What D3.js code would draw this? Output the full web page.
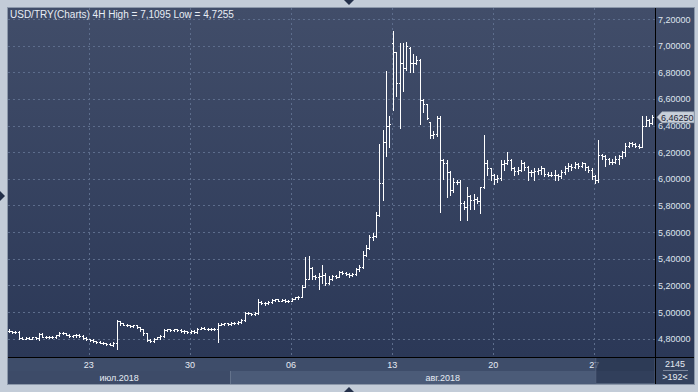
<!DOCTYPE html>
<html><head><meta charset="utf-8">
<script src="https://cdn.jsdelivr.net/npm/d3@7"></script>
<style>
html,body{margin:0;padding:0;background:#c3ccd8;overflow:hidden}
svg{display:block}
text{font-family:"Liberation Sans",Arial,sans-serif}
</style></head><body>
<svg id="c" width="698" height="392"></svg>
<script>
const opens=[
4.86,4.855,4.85,4.85,4.805,4.80,4.805,4.80,4.81,4.805,
4.835,4.815,4.81,4.815,4.81,4.825,4.845,4.84,4.83,4.82,
4.825,4.83,4.82,4.805,4.795,4.79,4.78,4.775,4.77,4.765,
4.76,4.755,4.77,4.93,4.915,4.905,4.90,4.895,4.90,4.885,
4.87,4.84,4.79,4.78,4.80,4.81,4.82,4.865,4.87,4.865,
4.87,4.865,4.86,4.855,4.85,4.86,4.85,4.875,4.88,4.875,
4.87,4.875,4.87,4.905,4.91,4.915,4.91,4.92,4.915,4.925,
4.94,4.995,4.99,4.985,4.995,5.075,5.07,5.065,5.075,5.09,
5.095,5.085,5.09,5.08,5.085,5.10,5.11,5.115,5.19,5.25,
5.33,5.27,5.265,5.27,5.28,5.22,5.245,5.27,5.265,5.30,
5.29,5.285,5.275,5.285,5.32,5.335,5.43,5.48,5.56,5.57,
5.73,5.97,6.28,6.40,7.02,6.95,6.72,6.87,6.83,6.98,
6.87,6.87,6.89,6.59,6.56,6.43,6.33,6.34,6.46,6.14,
6.12,6.05,5.92,5.98,5.98,5.82,5.79,5.87,5.84,5.85,
5.83,5.94,6.12,6.08,6.03,6.00,6.01,6.11,6.12,6.14,
6.08,6.06,6.07,6.12,6.09,6.05,6.05,6.06,6.07,6.08,
6.04,6.03,6.03,6.03,6.02,6.05,6.08,6.10,6.09,6.11,
6.10,6.12,6.09,6.07,6.02,5.99,6.18,6.17,6.15,6.13,
6.13,6.15,6.17,6.20,6.25,6.27,6.26,6.25,6.24,6.40,
6.44,6.42];
const highs=[
4.87,4.86,4.855,4.855,4.81,4.81,4.81,4.815,4.815,4.845,
4.84,4.82,4.82,4.82,4.83,4.85,4.85,4.845,4.835,4.83,
4.835,4.835,4.825,4.81,4.80,4.795,4.785,4.78,4.775,4.77,
4.765,4.775,4.94,4.935,4.92,4.91,4.905,4.905,4.905,4.89,
4.875,4.845,4.80,4.805,4.815,4.825,4.875,4.875,4.875,4.875,
4.875,4.87,4.865,4.86,4.865,4.865,4.88,4.89,4.885,4.88,
4.88,4.88,4.915,4.915,4.92,4.92,4.925,4.925,4.93,4.945,
5.00,5.00,4.995,5.00,5.095,5.08,5.075,5.08,5.095,5.10,
5.10,5.095,5.095,5.09,5.105,5.115,5.12,5.20,5.41,5.42,
5.34,5.28,5.29,5.35,5.29,5.27,5.28,5.275,5.31,5.305,
5.30,5.29,5.29,5.33,5.35,5.46,5.50,5.58,5.59,5.75,
6.26,6.37,6.81,6.47,7.1095,6.95,7.02,7.02,7.03,6.99,
6.94,6.92,6.90,6.60,6.56,6.43,6.36,6.47,6.47,6.15,
6.14,6.06,6.01,5.99,5.99,5.83,5.94,5.88,5.89,5.86,
5.94,6.33,6.14,6.08,6.04,6.03,6.14,6.14,6.20,6.15,
6.09,6.09,6.14,6.13,6.10,6.07,6.08,6.08,6.10,6.08,
6.05,6.05,6.07,6.04,6.07,6.10,6.12,6.11,6.13,6.12,
6.13,6.12,6.10,6.08,6.03,6.29,6.19,6.18,6.16,6.15,
6.17,6.18,6.21,6.27,6.28,6.28,6.27,6.26,6.47,6.47,
6.45,6.48];
const lows=[
4.85,4.845,4.84,4.80,4.795,4.795,4.80,4.795,4.80,4.79,
4.81,4.805,4.805,4.805,4.805,4.82,4.835,4.825,4.815,4.81,
4.815,4.815,4.80,4.79,4.785,4.775,4.77,4.765,4.76,4.755,
4.75,4.745,4.7255,4.905,4.90,4.895,4.89,4.89,4.88,4.86,
4.83,4.78,4.775,4.775,4.795,4.80,4.815,4.855,4.86,4.86,
4.855,4.85,4.845,4.845,4.845,4.845,4.845,4.87,4.87,4.865,
4.865,4.865,4.775,4.90,4.905,4.905,4.905,4.91,4.91,4.92,
4.935,4.985,4.98,4.98,4.985,5.06,5.055,5.06,5.07,5.085,
5.08,5.08,5.075,5.075,5.08,5.095,5.10,5.11,5.19,5.25,
5.25,5.25,5.17,5.22,5.20,5.21,5.24,5.255,5.26,5.285,
5.28,5.265,5.27,5.28,5.31,5.33,5.42,5.47,5.54,5.56,
5.72,5.84,6.17,6.24,6.52,6.62,6.38,6.66,6.82,6.80,
6.80,6.86,6.41,6.50,6.45,6.31,6.31,6.32,5.75,6.00,
5.86,5.88,5.90,5.96,5.69,5.77,5.69,5.77,5.77,5.82,
5.74,5.93,6.03,5.99,5.96,5.98,5.99,6.07,6.11,6.07,
6.03,6.04,6.06,6.07,5.99,6.02,5.99,6.04,6.04,6.02,
6.02,6.02,5.99,5.99,6.01,6.04,6.06,6.07,6.08,6.08,
6.09,6.07,6.05,6.00,5.97,5.98,6.15,6.10,6.11,6.11,
6.12,6.11,6.16,6.17,6.24,6.25,6.24,6.23,6.24,6.40,
6.40,6.41];
const closes=[
4.855,4.85,4.85,4.805,4.80,4.805,4.80,4.81,4.805,4.835,
4.815,4.81,4.815,4.81,4.825,4.845,4.84,4.83,4.82,4.825,
4.83,4.82,4.805,4.795,4.79,4.78,4.775,4.77,4.765,4.76,
4.755,4.77,4.93,4.915,4.905,4.90,4.895,4.90,4.885,4.87,
4.84,4.79,4.78,4.80,4.81,4.82,4.865,4.87,4.865,4.87,
4.865,4.86,4.855,4.85,4.86,4.85,4.875,4.88,4.875,4.87,
4.875,4.87,4.905,4.91,4.915,4.91,4.92,4.915,4.925,4.94,
4.995,4.99,4.985,4.995,5.075,5.07,5.065,5.075,5.09,5.095,
5.085,5.09,5.08,5.085,5.10,5.11,5.115,5.19,5.25,5.33,
5.27,5.265,5.27,5.28,5.22,5.245,5.27,5.265,5.30,5.29,
5.285,5.275,5.285,5.32,5.335,5.43,5.48,5.56,5.57,5.73,
5.97,6.28,6.40,6.41,6.95,6.72,6.87,6.83,7.00,6.87,
6.87,6.89,6.59,6.56,6.46,6.33,6.34,6.46,6.14,6.12,
6.05,5.92,5.98,5.98,5.82,5.79,5.87,5.84,5.85,5.83,
5.94,6.12,6.08,6.03,6.00,6.01,6.11,6.12,6.14,6.08,
6.06,6.07,6.12,6.09,6.05,6.05,6.06,6.07,6.08,6.04,
6.03,6.03,6.03,6.02,6.05,6.08,6.10,6.09,6.11,6.10,
6.12,6.09,6.07,6.02,5.99,6.18,6.17,6.15,6.13,6.13,
6.15,6.17,6.20,6.25,6.27,6.26,6.25,6.24,6.40,6.44,
6.42,6.4625];
const priceTicks=[4.8,5.0,5.2,5.4,5.6,5.8,6.0,6.2,6.4,6.6,6.8,7.0,7.2];
const dayTickIndex=[24,54,84,114,144,174];
const dayTickLabels=["23","30","06","13","20","27"];
const monthStartIndex=[0,66];
const monthLabels=["июл.2018","авг.2018"];
const lastPrice=6.4625;
const titleText="USD/TRY(Charts) 4H High = 7,1095 Low = 4,7255";
const barCountText="2145";
const visibleText=">192<";

const svg=d3.select("#c");
const L=8,R=655,T=8,B=357,AX=694,BB=384;
const n=closes.length;
const x=d3.scaleLinear().domain([0,n]).range([L,R]);
const y=d3.scaleLinear().domain([4.8,7.2]).range([338.7,19]);
const fmt=v=>d3.format(".5f")(v).replace(".",",");

const defs=svg.append("defs");
const g=defs.append("linearGradient").attr("id","bg").attr("x1",0).attr("y1",0).attr("x2",0).attr("y2",1);
g.append("stop").attr("offset","0%").attr("stop-color","#414d69");
g.append("stop").attr("offset","100%").attr("stop-color","#2b3857");
defs.append("clipPath").attr("id","pc").append("rect").attr("x",L).attr("y",T).attr("width",R-L).attr("height",B-T);

// frame
svg.append("rect").attr("x",7.5).attr("y",7.5).attr("width",AX-7).attr("height",BB-7).attr("fill","none").attr("stroke","#8c98aa");
svg.append("rect").attr("x",L).attr("y",T).attr("width",AX-L).attr("height",B-T).attr("fill","url(#bg)");

// bottom rows
svg.append("rect").attr("x",L).attr("y",B).attr("width",R-L).attr("height",14).attr("fill","#3e4d6a");
monthStartIndex.forEach((s,k)=>{
  const e=k+1<monthStartIndex.length?monthStartIndex[k+1]:n;
  svg.append("rect").attr("x",x(s)).attr("y",B+14).attr("width",x(e)-x(s)).attr("height",BB-B-14)
    .attr("fill",k===0?"#3d4b68":"#4b5b78");
  svg.append("text").attr("x",(x(s)+x(e))/2).attr("y",B+24).attr("text-anchor","middle")
    .attr("font-size",9).attr("fill","#e6ebf3").text(monthLabels[k]);
});
svg.append("rect").attr("x",R).attr("y",B).attr("width",AX-R).attr("height",BB-B).attr("fill","#34425e");

// grid
const grid=svg.append("g").attr("clip-path","url(#pc)").attr("stroke","#5d6d8c").attr("stroke-dasharray","2,3").attr("shape-rendering","crispEdges");
priceTicks.forEach(p=>grid.append("line").attr("x1",L).attr("x2",R).attr("y1",Math.round(y(p))+0.5).attr("y2",Math.round(y(p))+0.5));
dayTickIndex.forEach(i=>grid.append("line").attr("y1",T).attr("y2",B).attr("x1",Math.round(x(i))+0.5).attr("x2",Math.round(x(i))+0.5));

// day labels
dayTickIndex.forEach((i,k)=>svg.append("text").attr("x",x(i)).attr("y",B+11).attr("text-anchor","middle")
  .attr("font-size",9).attr("fill","#e6ebf3").text(dayTickLabels[k]));

// overlay box
svg.append("rect").attr("x",x(174)+1.5).attr("y",B+0.5).attr("width",R-x(174)-1.5).attr("height",BB-B-1)
  .attr("fill","#27334e").attr("fill-opacity",0.7).attr("stroke","#56657f").attr("stroke-width",0.8);

// bars
const bars=svg.append("g").attr("clip-path","url(#pc)").attr("fill","#ffffff").attr("shape-rendering","crispEdges");
d3.range(n).forEach(i=>{
  const cx=Math.round(x(i+0.5))-1;
  const yh=Math.round(y(highs[i])), yl=Math.round(y(lows[i]));
  bars.append("rect").attr("x",cx).attr("y",yh).attr("width",1).attr("height",Math.max(1,yl-yh+1));
  bars.append("rect").attr("x",cx-1).attr("y",Math.round(y(opens[i]))).attr("width",1).attr("height",1);
  bars.append("rect").attr("x",cx+1).attr("y",Math.round(y(closes[i]))).attr("width",1).attr("height",1);
});

// axis lines
svg.append("line").attr("x1",R+0.5).attr("x2",R+0.5).attr("y1",T).attr("y2",BB).attr("stroke","#000");
svg.append("line").attr("x1",L).attr("x2",AX).attr("y1",B+0.5).attr("y2",B+0.5).attr("stroke","#000");

// price labels
priceTicks.forEach(p=>svg.append("text").attr("x",658).attr("y",y(p)+3.5).attr("font-size",9)
  .attr("fill","#dfe5ee").text(fmt(p)));

// last price tag
const ly=y(lastPrice);
svg.append("path").attr("d",`M657,${ly} L662,${ly-5.5} L694,${ly-5.5} L694,${ly+5.5} L662,${ly+5.5} Z`)
  .attr("fill","#c9d0da").attr("stroke","#9aa4b3").attr("stroke-width",0.6);
svg.append("text").attr("x",661).attr("y",ly+3.5).attr("font-size",9).attr("fill","#1d2536").text(fmt(lastPrice).slice(0,7));

// corner box
svg.append("text").attr("x",675).attr("y",B+10).attr("text-anchor","middle").attr("font-size",9).attr("fill","#e6ebf3").text(barCountText);
svg.append("line").attr("x1",663).attr("x2",688).attr("y1",B+13.5).attr("y2",B+13.5).attr("stroke","#aab4c4").attr("stroke-width",0.6);
svg.append("text").attr("x",675).attr("y",B+23).attr("text-anchor","middle").attr("font-size",9).attr("fill","#e6ebf3").text(visibleText);

// title
svg.append("text").attr("x",10).attr("y",18).attr("font-size",10).attr("fill","#e8edf5").text(titleText);

// triangles
svg.append("path").attr("d","M344,0 L354,0 L349,5 Z").attr("fill","#24304a");
svg.append("path").attr("d","M344,392 L354,392 L349,387 Z").attr("fill","#24304a");
svg.append("path").attr("d","M0,191 L0,201 L5,196 Z").attr("fill","#24304a");
</script>
</body></html>
